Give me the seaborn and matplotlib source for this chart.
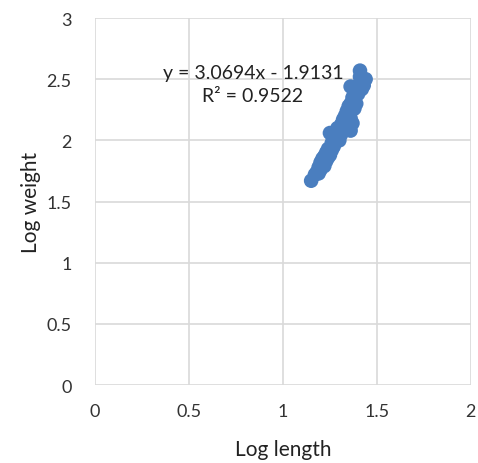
import matplotlib
matplotlib.use("Agg")
import matplotlib.pyplot as plt
import seaborn as sns
import pandas as pd

log_length = [1.15, 1.17, 1.18, 1.19, 1.19, 1.20, 1.20, 1.21, 1.21, 1.22, 1.22, 1.23, 1.23,
              1.24, 1.24, 1.25, 1.25, 1.26, 1.26, 1.27, 1.27, 1.28, 1.29, 1.29, 1.30, 1.30,
              1.31, 1.31, 1.32, 1.32, 1.33, 1.33, 1.34, 1.34, 1.35, 1.35, 1.35, 1.36, 1.36,
              1.36, 1.36, 1.37, 1.37, 1.37, 1.38, 1.38, 1.39, 1.39, 1.40, 1.40, 1.41, 1.42,
              1.42, 1.43, 1.44, 1.41]
log_weight = [1.67, 1.72, 1.74, 1.73, 1.78, 1.76, 1.82, 1.80, 1.85, 1.79, 1.87, 1.83, 1.90,
              1.86, 1.93, 1.88, 2.06, 1.92, 1.98, 1.95, 2.02, 1.99, 2.03, 2.10, 2.00, 2.08,
              2.05, 2.13, 2.09, 2.17, 2.12, 2.20, 2.15, 2.24, 2.10, 2.20, 2.28, 2.08, 2.18,
              2.30, 2.44, 2.14, 2.25, 2.35, 2.26, 2.32, 2.30, 2.40, 2.38, 2.45, 2.57, 2.42,
              2.48, 2.45, 2.50, 2.52]
x_ticks = [0, 0.5, 1, 1.5, 2]
y_ticks = [0, 0.5, 1, 1.5, 2, 2.5, 3]
x_tick_labels = ["0", "0.5", "1", "1.5", "2"]
y_tick_labels = ["0", "0.5", "1", "1.5", "2", "2.5", "3"]
equation_text = "y = 3.0694x - 1.9131\nR² = 0.9522"

df = pd.DataFrame({"Log length": log_length, "Log weight": log_weight})

sns.set_style("white")
plt.rcParams["font.family"] = ["Lato", "DejaVu Sans"]

fig = plt.figure(figsize=(4.78, 4.64), dpi=100)
ax = fig.add_axes([0.199, 0.168, 0.786, 0.791])

sns.scatterplot(data=df, x="Log length", y="Log weight", ax=ax, s=110,
                color="#4A7EBF", edgecolor="none", alpha=1, zorder=3)

ax.set_xlim(0, 2)
ax.set_ylim(0, 3)
ax.set_xticks(x_ticks)
ax.set_xticklabels(x_tick_labels)
ax.set_yticks(y_ticks)
ax.set_yticklabels(y_tick_labels)
ax.grid(True, color="#D9D9D9", linewidth=1.2, zorder=0)
ax.set_axisbelow(True)
for sp in ax.spines.values():
    sp.set_visible(False)
ax.tick_params(axis="x", length=0, labelsize=13, colors="#333333", pad=13)
ax.tick_params(axis="y", length=0, labelsize=13, colors="#333333", pad=17)
ax.set_xlabel("Log length", fontsize=15, color="#222222", labelpad=14)
ax.set_ylabel("Log weight", fontsize=15, color="#222222", labelpad=4)

ax.text(0.84, 2.46, equation_text, ha="center", va="center", fontsize=14,
        color="#222222", linespacing=1.45, zorder=4)

fig.savefig("out.png", dpi=100)
